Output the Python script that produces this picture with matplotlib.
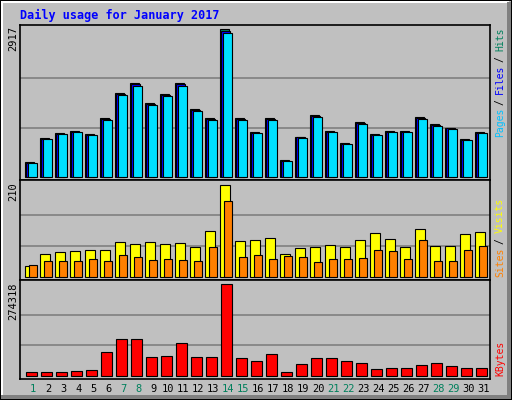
import matplotlib
matplotlib.use("Agg")
import matplotlib.pyplot as plt
from matplotlib.patches import Rectangle

days = list(range(1, 32))
hits = [284,759,858,898,838,1155,1650,1848,1452,1630,1848,1340,1155,2917,1155,878,
        1155,323,786,1214,898,660,1076,838,898,898,1175,1036,964,739,878]
files = [h*0.99 for h in hits]
pages = [h*0.975 for h in hits]
visits = [24,51,56,59,61,61,79,75,79,75,77,68,104,210,81,84,88,52,65,68,72,68,84,100,86,68,109,70,70,97,102]
sites = [26,36,36,36,40,36,49,45,38,40,38,36,68,173,45,49,40,47,45,33,40,40,43,61,59,40,84,36,36,61,70]
kbytes = [11000,11000,11000,14000,17000,71000,110000,110000,56000,59000,98000,56000,56000,274318,
          53000,44000,65000,11000,35000,53000,53000,44000,38000,20000,23000,23000,32000,38000,29000,23000,23000]
weekend = [1,7,8,14,15,21,22,28,29]

BG = "#C0C0C0"
W, H = 512, 400
fig = plt.figure(figsize=(W/100, H/100), dpi=100, facecolor=BG)
plt.rcParams['font.family'] = ['DejaVu Sans Mono']

def ax_at(x0, y0, x1, y1):
    return fig.add_axes([x0/W, 1-y1/H, (x1-x0)/W, (y1-y0)/H])

def style(ax, vmax, lo, hi):
    ax.set_facecolor(BG)
    ax.set_xlim(0.247, 31.58)
    ax.set_ylim(lo, hi)
    for f in (1/3, 2/3):
        ax.axhline(vmax*f, color="#808080", lw=1.2, zorder=0)
    ax.set_xticks([]); ax.set_yticks([])
    for s in ax.spines.values():
        s.set_color("black"); s.set_linewidth(1.2)

ax1 = ax_at(20, 25, 490, 180)
style(ax1, 2917, -65, 3002)
ax1.bar([d-0.42 for d in days], hits, width=0.6, align='edge', color="#00805C", edgecolor="black", lw=0.8, zorder=2)
ax1.bar([d-0.33 for d in days], files, width=0.6, align='edge', color="#0000FF", edgecolor="black", lw=0.8, zorder=3)
ax1.bar([d-0.24 for d in days], pages, width=0.6, align='edge', color="#00E0FF", edgecolor="black", lw=0.8, zorder=4)

ax2 = ax_at(20, 180, 490, 280)
style(ax2, 210, -7.5, 220.7)
ax2.bar([d-0.42 for d in days], visits, width=0.67, align='edge', color="#FFFF00", edgecolor="black", lw=0.8, zorder=2)
ax2.bar([d-0.13 for d in days], sites, width=0.5, align='edge', color="#FF8000", edgecolor="black", lw=0.8, zorder=3)

ax3 = ax_at(20, 280, 490, 379)
style(ax3, 274318, -9900, 287200)
ax3.bar(days, kbytes, width=0.7, color="#FF0000", edgecolor="black", lw=0.8, zorder=2)

for d in days:
    x = 20 + (d - 0.247) * 15.0 + 2
    fig.text(x/W, 1-389/H, str(d), ha='center', va='center', fontsize=7.5,
             color="#00805C" if d in weekend else "black")

fig.text(20/W, 1-15/H, "Daily usage for January 2017", color="#0000FF",
         fontsize=8.5, fontweight='bold', va='center', ha='left')

for txt, ytop in (("2917", 26), ("210", 182), ("274318", 283)):
    fig.text(13/W, 1-ytop/H, txt, rotation=90, ha='center', va='top', fontsize=7.5)

def right_label(pieces, ybottom, cw):
    off = 0
    for t, c in pieces:
        if t == "/":
            off += 1
            fig.text(500/W, 1-(ybottom - (off+0.5)*cw)/H, t, rotation=90, ha='center', va='center',
                     fontsize=7.0, color=c)
            off += 2
        else:
            fig.text(500/W, 1-(ybottom - off*cw)/H, t, rotation=90, ha='center', va='bottom',
                     fontsize=7.0, color=c)
            off += len(t)

right_label([("Pages", "#00C0FF"), ("/", "black"), ("Files", "#0000FF"), ("/", "black"), ("Hits", "#00805C")], 137, 5.35)
right_label([("Sites", "#FF8000"), ("/", "black"), ("Visits", "#FFFF00")], 277, 5.5)
right_label([("KBytes", "#FF0000")], 376, 5.8)

# borders
fig.patches.append(Rectangle((0, 0), 1, 1, transform=fig.transFigure, fill=False, edgecolor="black", lw=1.5))
fig.patches.append(Rectangle((1/W, 1-3/H), 1-4/W, 2/H, transform=fig.transFigure, color="white", lw=0))
fig.patches.append(Rectangle((1/W, 3/H), 2/W, 1-6/H, transform=fig.transFigure, color="white", lw=0))
fig.patches.append(Rectangle((1-5/W, 1/H), 4/W, 1-3/H, transform=fig.transFigure, color="#808080", lw=0))
fig.patches.append(Rectangle((1/W, 1/H), 1-2/W, 4/H, transform=fig.transFigure, color="#808080", lw=0))

fig.savefig("out.png", dpi=100, facecolor=BG)
